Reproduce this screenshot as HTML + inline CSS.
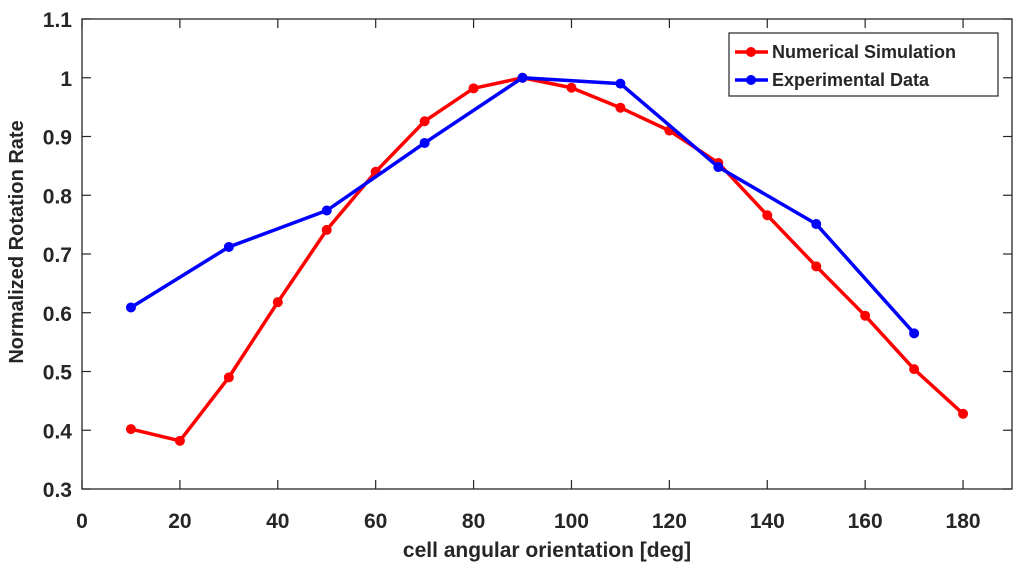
<!DOCTYPE html>
<html><head><meta charset="utf-8"><style>
html,body{margin:0;padding:0;background:#fff;width:1024px;height:574px;overflow:hidden}
svg text{font-family:"Liberation Sans",Arial,sans-serif;font-weight:bold;fill:#262626}
</style></head><body>
<svg id="chart" width="1024" height="574" xmlns="http://www.w3.org/2000/svg"></svg>
<script>
const xTicks=[0,20,40,60,80,100,120,140,160,180];
const yTicks=[0.3,0.4,0.5,0.6,0.7,0.8,0.9,1,1.1];
const yTickLabels=["0.3","0.4","0.5","0.6","0.7","0.8","0.9","1","1.1"];
const simX=[10,20,30,40,50,60,70,80,90,100,110,120,130,140,150,160,170,180];
const simY=[0.402,0.382,0.49,0.618,0.741,0.84,0.926,0.982,1.0,0.983,0.949,0.91,0.855,0.766,0.679,0.595,0.504,0.428];
const expX=[10,30,50,70,90,110,130,150,170];
const expY=[0.609,0.712,0.774,0.889,1.0,0.99,0.848,0.751,0.565];
const L=82,R=1012,T=19,B=489,X0=0,X1=190,Y0=0.3,Y1=1.1;
const sx=v=>L+(v-X0)/(X1-X0)*(R-L);
const sy=v=>B-(v-Y0)/(Y1-Y0)*(B-T);
const svg=document.getElementById('chart');
const NS='http://www.w3.org/2000/svg';
function mk(tag,attrs,parent){const e=document.createElementNS(NS,tag);for(const k in attrs)e.setAttribute(k,attrs[k]);(parent||svg).appendChild(e);return e;}
const axis=mk('g',{});


const box=mk('rect',{x:L,y:T,width:R-L,height:B-T,fill:'none',stroke:'#262626','stroke-width':1.3},axis);


xTicks.forEach(v=>{
  const x=sx(v);
  mk('line',{x1:x,y1:B,x2:x,y2:B-9,stroke:'#262626','stroke-width':1.2},axis);
  mk('line',{x1:x,y1:T,x2:x,y2:T+9,stroke:'#262626','stroke-width':1.2},axis);
  const t=mk('text',{x:x,y:B+39,'text-anchor':'middle','font-size':21},axis);
  t.textContent=v;
  
  
});
yTicks.forEach((v,i)=>{
  const y=sy(v);
  mk('line',{x1:L,y1:y,x2:L+9,y2:y,stroke:'#262626','stroke-width':1.2},axis);
  mk('line',{x1:R,y1:y,x2:R-9,y2:y,stroke:'#262626','stroke-width':1.2},axis);
  const t=mk('text',{x:L-10,y:y+8,'text-anchor':'end','font-size':21},axis);
  t.textContent=yTickLabels[i];
  
  
});
const xt=mk('text',{x:(L+R)/2,y:557,'text-anchor':'middle','font-size':21});
xt.textContent='cell angular orientation [deg]';


const yt=mk('text',{x:23,y:(T+B)/2-12,'text-anchor':'middle','font-size':20,transform:'rotate(-90 23 '+((T+B)/2-12)+')'});
yt.textContent='Normalized Rotation Rate';


function series(xs,ys,color,name){
  const g=mk('g',{});
  
  
  const pts=xs.map((x,i)=>sx(x)+','+sy(ys[i])).join(' ');
  mk('polyline',{points:pts,fill:'none',stroke:color,'stroke-width':3.5,'stroke-linejoin':'round'},g);
  xs.forEach((x,i)=>{
    const c=mk('circle',{cx:sx(x),cy:sy(ys[i]),r:5,fill:color},g);
    
    
  });
}
series(simX,simY,'#ff0000','numerical-simulation-series');
series(expX,expY,'#0000ff','experimental-data-series');
const lg=mk('g',{});


mk('rect',{x:729,y:33,width:269,height:63,fill:'#fff',stroke:'#262626','stroke-width':1.2},lg);
[['Numerical Simulation','#ff0000',52],['Experimental Data','#0000ff',80]].forEach(([lab,c,y])=>{
  mk('line',{x1:735,y1:y,x2:768,y2:y,stroke:c,'stroke-width':3.5},lg);
  mk('circle',{cx:751,cy:y,r:5,fill:c},lg);
  const t=mk('text',{x:772,y:y+6,'font-size':18},lg);
  t.textContent=lab;
  
  
});
</script>
</body></html>
